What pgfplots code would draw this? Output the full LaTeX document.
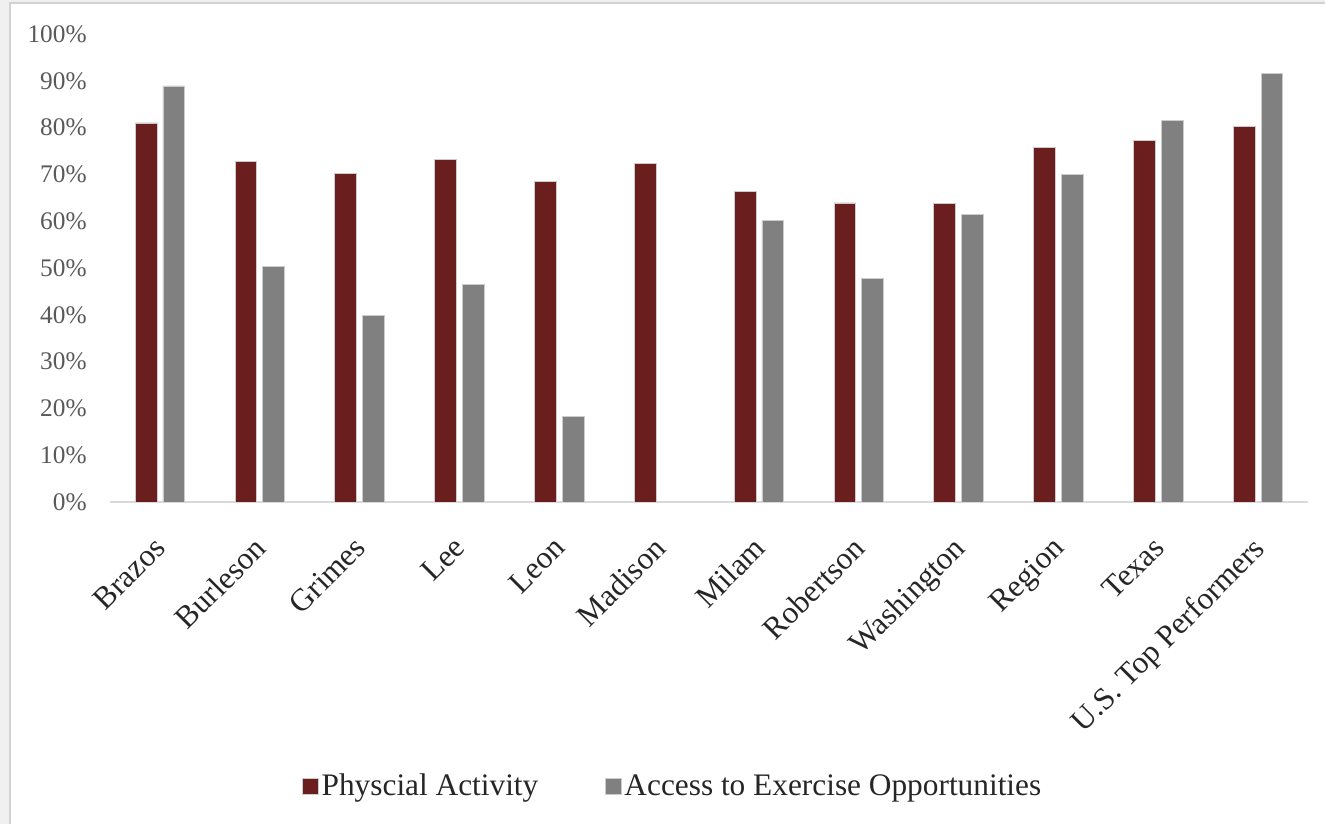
\documentclass[border=0pt]{standalone}
\usepackage{pgfplots}
\pgfplotsset{compat=1.18}
\usepackage{fontspec}
\setmainfont{Liberation Serif}
\definecolor{maroon}{RGB}{106,30,30}
\definecolor{bargray}{RGB}{128,128,128}
\definecolor{ticktxt}{RGB}{89,89,89}
\begin{document}
\begin{tikzpicture}
\path[use as bounding box] (0,0) rectangle (993.75pt,618pt);
\fill[gray!12] (0,0) rectangle (993.75pt,618pt);
\fill[white] (7.5pt,0) rectangle (993.75pt,615.75pt);
\draw[gray!35, line width=0.8pt] (7.5pt,0) -- (7.5pt,615.75pt) -- (993.75pt,615.75pt);
\begin{axis}[
  at={(82.5pt,241.5pt)}, anchor=south west,
  scale only axis, width=898.5pt, height=351pt,
  ybar=4.5pt, bar width=16.3pt,
  xmin=-0.5, xmax=11.5, ymin=0, ymax=100,
  axis x line*=bottom, axis y line*=left,
  y axis line style={draw=none},
  x axis line style={draw=black!15, line width=1pt},
  major tick length=0pt,
  tick style={draw=none},
  ytick={0,10,...,100},
  yticklabel={\pgfmathprintnumber{\tick}\%},
  /pgf/number format/assume math mode=true,
  yticklabel style={font=\fontsize{19}{21}\selectfont, text=ticktxt, anchor=east, xshift=-14pt},
  xtick={0,...,11},
  xticklabels={Brazos,Burleson,Grimes,Lee,Leon,Madison,Milam,Robertson,Washington,Region,Texas,U.S. Top Performers},
  xticklabel style={font=\fontsize{23.5}{26}\selectfont, text=black!85, xshift=-11pt, yshift=-17.5pt, rotate=45, anchor=north east, inner sep=1pt, yshift=-8pt},
  legend style={at={(0.47,-0.607)}, anchor=center, legend columns=2, draw=none, fill=none,
    font=\fontsize{23.5}{26}\selectfont, text=black!85,
    /tikz/every even column/.append style={column sep=48pt}},
  legend image code/.code={\fill[#1] (-2pt,-6pt) rectangle (10pt,6pt);},
  every axis plot/.append style={draw=white!80!black, line width=0.6pt},
]
\addplot[fill=maroon] coordinates {(0,81.0) (1,72.8) (2,70.2) (3,73.1) (4,68.4) (5,72.4) (6,66.4) (7,63.9) (8,63.7) (9,75.7) (10,77.3) (11,80.2)};
\addlegendentry{Physcial Activity}
\addplot[fill=bargray] coordinates {(0,88.9) (1,50.3) (2,39.9) (3,46.5) (4,18.3) (6,60.1) (7,47.8) (8,61.5) (9,69.9) (10,81.5) (11,91.5)};
\addlegendentry{Access to Exercise Opportunities}
\end{axis}
\end{tikzpicture}
\end{document}
